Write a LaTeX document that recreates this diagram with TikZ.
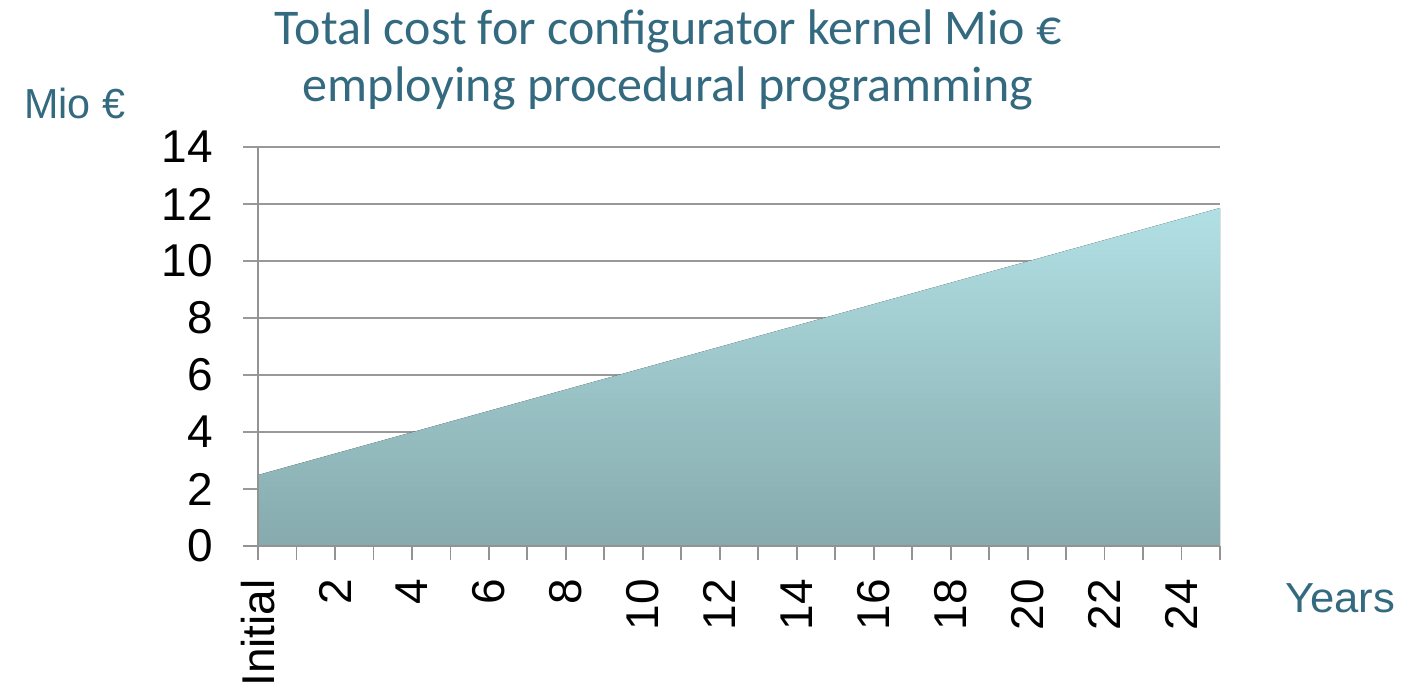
\documentclass[tikz,border=0pt]{standalone}
\usepackage{fontspec}
\usepackage{graphicx}
\setmainfont{Liberation Sans}
\newfontfamily\titlefont{Carlito}
\begin{document}
\begin{tikzpicture}[x=1pt,y=-1pt,
  grid/.style={draw=gray!80,line width=1.8pt},
  axisline/.style={draw=gray!85,line width=2.2pt},
  ytick/.style={anchor=east,inner sep=0pt,font=\fontsize{46}{50}\selectfont},
  xtick/.style={anchor=east,rotate=90,inner sep=0pt,font=\fontsize{46}{50}\selectfont},
  ttl/.style={anchor=base,inner sep=0pt,text=ttlcol,font=\titlefont\fontsize{50}{56}\selectfont},
  axlabel/.style={anchor=base west,inner sep=0pt,text=ttlcol,font=\fontsize{42}{46}\selectfont}]
\definecolor{ttlcol}{RGB}{52,106,128}
\definecolor{areatop}{RGB}{177,224,228}
\definecolor{areabot}{RGB}{134,170,173}
\useasboundingbox (0,0) rectangle (1402,682);
\clip (0,0) rectangle (1402,682);
% gridlines
\foreach \v in {2,4,...,14} {
  \draw[grid] (243,{546-28.5*\v}) -- (1220,{546-28.5*\v});
}
% area
\fill[top color=areatop,bottom color=areabot] (258,546) -- (258,475) -- (1220,208) -- (1220,546) -- cycle;
% y tick labels
\foreach \v in {0,2,...,14} {
  \node[ytick] (yl\v) at (213,{546-28.5*\v}) {\v};
}
% axes
\draw[axisline] (258,147) -- (258,546);
\draw[axisline] (243,546) -- (1220,546);
% x ticks
\foreach \i in {0,...,25} {
  \draw[axisline,line width=1.8pt] ({258+38.48*\i},546) -- ({258+38.48*\i},560);
}
% x tick labels
\node[xtick] (xl0) at (258,579) {Initial};
\foreach \i in {2,4,...,24} {
  \node[xtick] (xl\i) at ({258+38.48*\i},579) {\i};
}
% titles
\node[ttl] (t1) at (668.5,45) {\resizebox{787pt}{\height}{Total cost for configurator kernel Mio €}};
\node[ttl] (t2) at (668,102) {\resizebox{730pt}{\height}{employing procedural programming}};
\node[axlabel] (mio) at (24,118) {\resizebox{101pt}{\height}{Mio €}};
\node[axlabel] (years) at (1285,612) {\resizebox{110pt}{\height}{Years}};
\end{tikzpicture}
\end{document}
